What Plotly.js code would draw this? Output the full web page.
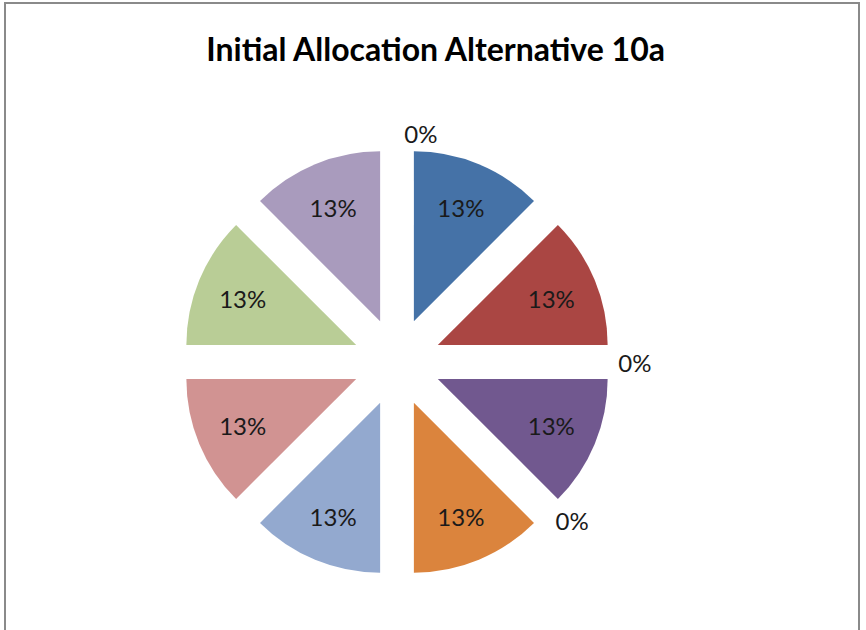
<!DOCTYPE html>
<html>
<head>
<meta charset="utf-8">
<script src="https://cdn.plot.ly/plotly-3.0.1.min.js"></script>
<style>
  html, body { margin: 0; padding: 0; background: #fff; }
  #wrap { position: relative; width: 866px; height: 630px; overflow: hidden; }
  #chart { width: 866px; height: 630px; }
  #frame { position: absolute; left: 4px; top: 2px; width: 856px; height: 700px;
           border: 2px solid #8a8a8a; pointer-events: none; box-sizing: border-box; }
</style>
</head>
<body>
<div id="wrap">
  <div id="chart"></div>
  <div id="frame"></div>
</div>
<script>
// Data
const categories = ["1", "2", "3", "4", "5", "6", "7", "8", "9", "10", "11"];
const values = [12.5, 12.5, 0, 12.5, 0, 12.5, 12.5, 12.5, 12.5, 12.5, 0];
const colors = ["#4572A7", "#AA4643", "#89A54E", "#71588F", "#4198AF", "#DB843D",
                "#93A9CF", "#D19392", "#B9CD96", "#A99BBD", "#92C3D4"];
const chartTitle = "Initial Allocation Alternative 10a";

const positions = values.map(v => v > 0 ? "inside" : "outside");

const trace = {
  type: "pie",
  labels: categories,
  values: values,
  sort: false,
  direction: "clockwise",
  rotation: 0,
  pull: values.map(() => 0.26),
  marker: { colors: colors, line: { width: 0 } },
  texttemplate: "%{percent:.0%}",
  textposition: positions,
  insidetextorientation: "horizontal",
  textfont: { family: "Lato, 'Open Sans', sans-serif", size: 24, color: "#1a1a1a" },
  hoverinfo: "none",
  showlegend: false
};

const layout = {
  width: 866,
  height: 630,
  margin: { l: 183, r: 255, t: 148, b: 54 },
  paper_bgcolor: "#ffffff",
  plot_bgcolor: "#ffffff",
  showlegend: false,
  title: {
    text: "<b>" + chartTitle + "</b>",
    font: { family: "Lato, 'Open Sans', sans-serif", size: 32, color: "#000" },
    x: 0.503, xref: "container", xanchor: "center",
    y: 0.921, yref: "container", yanchor: "middle"
  }
};

Plotly.newPlot("chart", [trace], layout, { displayModeBar: false, staticPlot: true });
</script>
</body>
</html>
